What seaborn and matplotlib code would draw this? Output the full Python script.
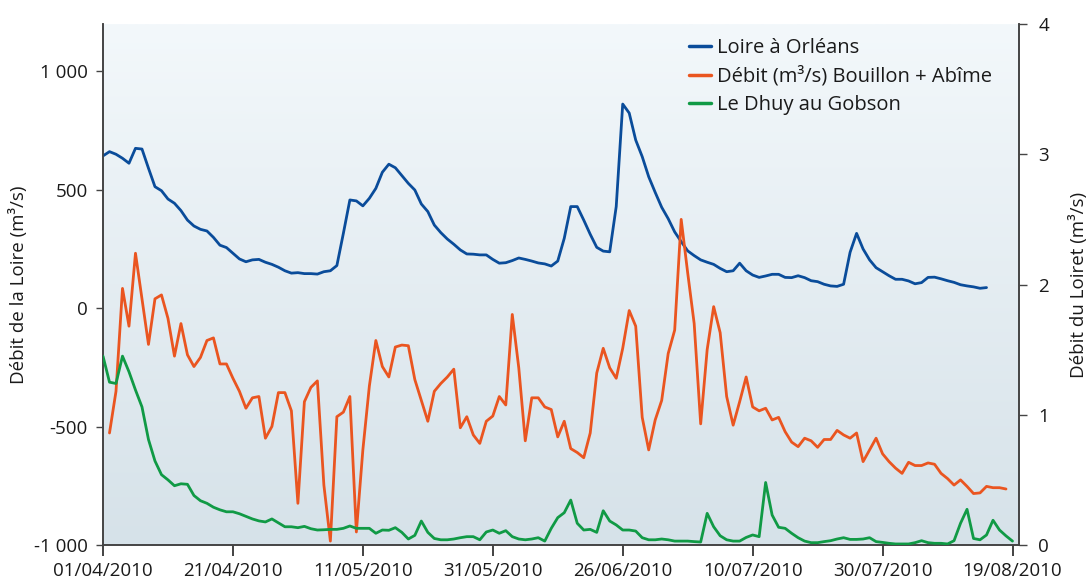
import numpy as np
import pandas as pd
import matplotlib
matplotlib.use("Agg")
import matplotlib.pyplot as plt
import seaborn as sns
from matplotlib.lines import Line2D

# ---------------- data ----------------
tick_days = [0, 20, 40, 60, 80, 100, 120, 140]
tick_labels = ["01/04/2010", "21/04/2010", "11/05/2010", "31/05/2010",
               "26/06/2010", "10/07/2010", "30/07/2010", "19/08/2010"]

left_ticks = [-1000, -500, 0, 500, 1000]
left_tick_labels = ["-1 000", "-500", "0", "500", "1 000"]
right_ticks = [0, 1, 2, 3, 4]

loire_start = 0
loire = [643, 661, 650, 633, 612, 675, 672, 591, 513, 496, 461, 443, 412, 372, 347, 333,
         326, 299, 266, 256, 232, 208, 196, 204, 206, 194, 185, 173, 158, 148, 150, 146,
         146, 144, 154, 158, 180, 316, 457, 453, 432, 464, 506, 574, 608, 593, 560, 527,
         499, 440, 408, 351, 319, 292, 270, 246, 229, 228, 225, 225, 206, 190, 192, 201,
         212, 206, 199, 191, 187, 178, 199, 295, 429, 429, 372, 312, 257, 241, 238, 429,
         862, 824, 710, 640, 555, 489, 426, 378, 322, 281, 242, 222, 204, 194, 185, 168,
         154, 158, 190, 158, 140, 130, 136, 143, 143, 130, 129, 137, 129, 116, 112, 101,
         94, 92, 101, 236, 316, 250, 204, 171, 154, 137, 122, 122, 115, 103, 108, 130,
         131, 124, 116, 109, 99, 94, 90, 84, 87]

bouillon_start = 1
bouillon = [0.86, 1.18, 1.97, 1.68, 2.24, 1.89, 1.54, 1.89, 1.92, 1.74, 1.45, 1.70, 1.46,
            1.37, 1.44, 1.57, 1.59, 1.39, 1.39, 1.28, 1.18, 1.05, 1.13, 1.14, 0.82, 0.91,
            1.17, 1.17, 1.03, 0.32, 1.10, 1.21, 1.26, 0.46, 0.03, 0.985, 1.02, 1.14, 0.10,
            0.73, 1.22, 1.57, 1.37, 1.29, 1.52, 1.535, 1.53, 1.27, 1.11, 0.95, 1.18, 1.24,
            1.29, 1.35, 0.90, 0.985, 0.845, 0.78, 0.95, 0.99, 1.14, 1.075, 1.77, 1.36, 0.80,
            1.13, 1.13, 1.06, 1.04, 0.83, 0.95, 0.74, 0.71, 0.67, 0.86, 1.32, 1.51, 1.36,
            1.28, 1.51, 1.80, 1.68, 0.98, 0.73, 0.96, 1.11, 1.47, 1.65, 2.50, 2.09, 1.70,
            0.93, 1.50, 1.83, 1.63, 1.14, 0.92, 1.10, 1.29, 1.06, 1.03, 1.05, 0.96, 0.98,
            0.87, 0.79, 0.755, 0.82, 0.80, 0.75, 0.81, 0.81, 0.88, 0.845, 0.82, 0.86, 0.64,
            0.73, 0.82, 0.70, 0.64, 0.59, 0.55, 0.635, 0.61, 0.61, 0.63, 0.62, 0.55, 0.51,
            0.46, 0.50, 0.45, 0.395, 0.40, 0.45, 0.44, 0.44, 0.43]

dhuy_start = 0
dhuy = [1.45, 1.25, 1.24, 1.45, 1.33, 1.19, 1.06, 0.81, 0.645, 0.54, 0.50, 0.455, 0.47,
        0.466, 0.38, 0.34, 0.32, 0.29, 0.27, 0.255, 0.255, 0.24, 0.22, 0.20, 0.185, 0.177,
        0.20, 0.17, 0.14, 0.14, 0.133, 0.143, 0.125, 0.115, 0.117, 0.12, 0.12, 0.128,
        0.146, 0.128, 0.128, 0.128, 0.09, 0.115, 0.113, 0.133, 0.097, 0.046, 0.074, 0.184,
        0.097, 0.05, 0.04, 0.04, 0.046, 0.056, 0.064, 0.064, 0.04, 0.10, 0.115, 0.09, 0.11,
        0.064, 0.046, 0.04, 0.046, 0.056, 0.03, 0.128, 0.21, 0.248, 0.345, 0.167, 0.115,
        0.12, 0.097, 0.263, 0.184, 0.154, 0.115, 0.115, 0.107, 0.056, 0.04, 0.04, 0.046,
        0.04, 0.03, 0.03, 0.03, 0.026, 0.023, 0.243, 0.14, 0.071, 0.04, 0.03, 0.03, 0.058,
        0.077, 0.064, 0.48, 0.23, 0.136, 0.128, 0.09, 0.056, 0.03, 0.018, 0.018, 0.026,
        0.033, 0.046, 0.056, 0.043, 0.043, 0.046, 0.056, 0.026, 0.02, 0.013, 0.008, 0.008,
        0.008, 0.018, 0.033, 0.018, 0.013, 0.013, 0.008, 0.033, 0.167, 0.274, 0.05, 0.04,
        0.077, 0.19, 0.115, 0.07, 0.03]

series_names = ["Loire à Orléans", "Débit (m³/s) Bouillon + Abîme", "Le Dhuy au Gobson"]
colors = ["#0a4c9a", "#ea5520", "#109a45"]

# ---------------- style ----------------
sns.set_style("ticks")
plt.rcParams["font.family"] = ["Open Sans", "DejaVu Sans"]

fig = plt.figure(figsize=(10.89, 5.83), dpi=100)
ax = fig.add_axes([103 / 1089, 38 / 583, 916 / 1089, 521 / 583])
ax2 = ax.twinx()

xmin, xmax = 0, 141
ymin, ymax = -1000, 1200

# background gradient
grad = np.linspace(0, 1, 256).reshape(-1, 1)
top_c = np.array([243, 248, 251]) / 255
bot_c = np.array([214, 226, 233]) / 255
img = top_c[None, None, :] * (1 - grad[:, :, None]) + bot_c[None, None, :] * grad[:, :, None]
ax.imshow(img, extent=[xmin, xmax, ymin, ymax], aspect="auto", zorder=0, origin="upper")

df_l = pd.DataFrame({"day": np.arange(loire_start, loire_start + len(loire)), "v": loire})
df_b = pd.DataFrame({"day": np.arange(bouillon_start, bouillon_start + len(bouillon)), "v": bouillon})
df_d = pd.DataFrame({"day": np.arange(dhuy_start, dhuy_start + len(dhuy)), "v": dhuy})

lw = 2.0
sns.lineplot(data=df_l, x="day", y="v", ax=ax, color=colors[0], linewidth=lw, zorder=3)
sns.lineplot(data=df_b, x="day", y="v", ax=ax2, color=colors[1], linewidth=lw, zorder=3)
sns.lineplot(data=df_d, x="day", y="v", ax=ax2, color=colors[2], linewidth=lw, zorder=3)

ax.set_xlim(xmin, xmax)
ax.set_ylim(ymin, ymax)
ax2.set_ylim(0, 4)

txt_c = "#1a1a1a"
ax.set_xticks(tick_days)
ax.set_xticklabels(tick_labels, fontsize=13.5, color=txt_c)
ax.set_yticks(left_ticks)
ax.set_yticklabels(left_tick_labels, fontsize=13.5, color=txt_c)
ax2.set_yticks(right_ticks)
ax2.set_yticklabels([str(t) for t in right_ticks], fontsize=13.5, color=txt_c)

ax.set_xlabel("")
ax.set_ylabel("Débit de la Loire (m³/s)", fontsize=13.5, color=txt_c, labelpad=4)
ax2.set_ylabel("Débit du Loiret (m³/s)", fontsize=13.5, color=txt_c, labelpad=14,
               rotation=90)

for a in (ax, ax2):
    a.spines["top"].set_visible(False)
    for s in ("left", "right", "bottom"):
        a.spines[s].set_color("#444444")
        a.spines[s].set_linewidth(1.2)
ax.tick_params(axis="x", length=8, width=1.2, color="#222222", pad=4)
ax.tick_params(axis="y", length=5, width=1.0, color="#444444", pad=6)
ax2.tick_params(axis="y", length=6, width=1.0, color="#444444", pad=8)

handles = [Line2D([0], [0], color=c, linewidth=2.5) for c in colors]
leg = ax2.legend(handles, series_names, loc="upper right", bbox_to_anchor=(0.99, 1.008),
                 frameon=False, fontsize=14.5, handlelength=1.1, handletextpad=0.3,
                 labelspacing=0.42)
for t in leg.get_texts():
    t.set_color(txt_c)

fig.savefig("out.png", dpi=100)
